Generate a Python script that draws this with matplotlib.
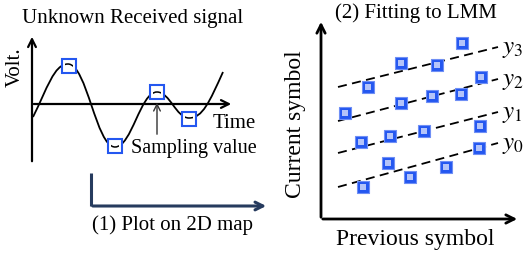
import matplotlib
matplotlib.use("Agg")
import numpy as np
from matplotlib import pyplot as plt
from matplotlib.path import Path
from matplotlib.patches import PathPatch, Rectangle

plt.rcParams['font.family'] = 'Liberation Serif'
plt.rcParams['mathtext.fontset'] = 'stix'

# left panel: received waveform (key points, pixel coords)
wave_x = [33, 68, 115, 157, 189, 223]
wave_y = [117, 64, 147, 92, 118, 72]
wave_slope = [-2.0, 0, 0, 0, 0, -2.2]
sample_x = [69, 115, 157, 189]
sample_y = [66, 146, 92, 119]

# right panel: symbol pairs (previous, current)
sym_prev = [462, 401, 437, 368, 481, 345, 401, 432, 461, 480, 424, 390, 361, 479, 388, 446, 410, 363]
sym_curr = [43, 63, 65, 87, 77, 113, 103, 96, 94, 126, 131, 136, 142, 148, 163, 167, 177, 187]
level_labels = ['$y_0$', '$y_1$', '$y_2$', '$y_3$']
level_x = [338, 498]
level_y0 = [187, 153, 121, 87]
level_y1 = [143, 112, 79, 47]

blue = '#2457f0'
navy = '#263b5e'

fig = plt.figure(figsize=(5.25, 2.58), dpi=100)
ax = fig.add_axes([0, 0, 1, 1])
ax.set_xlim(0, 525)
ax.set_ylim(258, 0)
ax.axis('off')

# ---- left panel ----
ax.text(22, 18, 'Unknown Received signal', fontsize=15, va='center', ha='left')
ax.annotate('', xy=(32, 34), xytext=(32, 164),
            arrowprops=dict(arrowstyle='->', lw=1.6, color='black', mutation_scale=14))
ax.annotate('', xy=(234, 104), xytext=(31, 104),
            arrowprops=dict(arrowstyle='->', lw=1.6, color='black', mutation_scale=14))
ax.text(15, 67, 'Volt.', fontsize=15, rotation=90, va='center', ha='center')
ax.text(234, 123, 'Time', fontsize=15, va='center', ha='center')

# waveform as cubic bezier through the key points
k = 0.4
verts = [(wave_x[0], wave_y[0])]
codes = [Path.MOVETO]
for i in range(len(wave_x) - 1):
    dx = wave_x[i + 1] - wave_x[i]
    verts += [(wave_x[i] + k * dx, wave_y[i] + wave_slope[i] * k * dx),
              (wave_x[i + 1] - k * dx, wave_y[i + 1] - wave_slope[i + 1] * k * dx),
              (wave_x[i + 1], wave_y[i + 1])]
    codes += [Path.CURVE4] * 3
wave = Path(verts, codes)
ax.add_patch(PathPatch(wave, fc='none', ec='black', lw=1.3, zorder=2))

sq = 14
for sx, sy in zip(sample_x, sample_y):
    ax.add_patch(Rectangle((sx - sq / 2, sy - sq / 2), sq, sq, fc='white', ec=blue, lw=1.5, zorder=3))
    inner = Rectangle((sx - sq / 2 + 3, sy - sq / 2 + 2), sq - 6, sq - 4, transform=ax.transData)
    arc = PathPatch(wave, fc='none', ec='black', lw=1.1, zorder=4)
    ax.add_patch(arc)
    arc.set_clip_path(inner)

ax.annotate('', xy=(157, 100), xytext=(157, 137),
            arrowprops=dict(arrowstyle='->', lw=1.0, color='#333333', mutation_scale=12))
ax.text(194, 149, 'Sampling value', fontsize=14.5, va='center', ha='center')

# step arrow (1)
ax.plot([91, 91], [173, 206], color=navy, lw=2.2, solid_capstyle='butt')
ax.annotate('', xy=(269, 206), xytext=(90, 206),
            arrowprops=dict(arrowstyle='->', lw=2.2, color=navy, mutation_scale=14))
ax.text(92, 225, '(1) Plot on 2D map', fontsize=15, va='center', ha='left')

# ---- right panel ----
ax.text(416, 13, '(2) Fitting to LMM', fontsize=15, va='center', ha='center')
ax.annotate('', xy=(321, 19), xytext=(321, 220),
            arrowprops=dict(arrowstyle='->', lw=2.0, color='black', mutation_scale=15))
ax.annotate('', xy=(520, 219), xytext=(320, 219),
            arrowprops=dict(arrowstyle='->', lw=2.0, color='black', mutation_scale=15))
ax.text(296, 124, 'Current symbol', fontsize=17, rotation=90, va='center', ha='center')
ax.text(415, 240, 'Previous symbol', fontsize=17, va='center', ha='center')

for lab, ya, yb in zip(level_labels, level_y0, level_y1):
    ax.plot(level_x, [ya, yb], color='black', lw=1.3, ls=(0, (5, 3)), zorder=3)
    ax.text(502, yb + 2, lab, fontsize=18, va='center', ha='left')

ax.scatter(sym_prev, sym_curr, marker='s', s=85, c=blue, edgecolors='#6f8ff5', linewidths=0.8, zorder=4)
ax.scatter(sym_prev, sym_curr, marker='s', s=15, c='#b4c4f9', edgecolors='none', zorder=5)

fig.savefig('out.png', dpi=100)
